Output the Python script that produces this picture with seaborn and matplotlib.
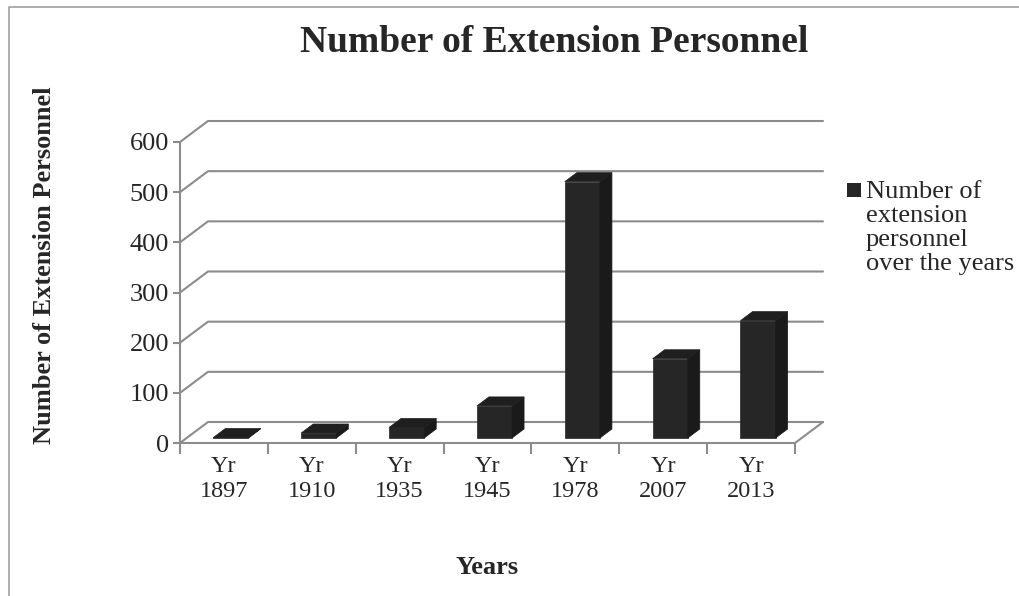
import numpy as np
import pandas as pd
import matplotlib
matplotlib.use("Agg")
import matplotlib.pyplot as plt
import seaborn as sns
from matplotlib.lines import Line2D
from matplotlib.patches import Polygon, Rectangle
from matplotlib.transforms import IdentityTransform, ScaledTranslation

# data
years = ["1897", "1910", "1935", "1945", "1978", "2007", "2013"]
personnel = [1, 10, 21, 64, 511, 158, 234]
tick_labels = ["Yr\n" + y for y in years]
y_ticks = [0, 100, 200, 300, 400, 500, 600]

sns.set_theme(style="white")
plt.rcParams['font.family'] = ['Liberation Serif', 'DejaVu Serif']

W, H, DPI = 1019, 596, 100
fig = plt.figure(figsize=(W / DPI, H / DPI), dpi=DPI)
# front plane of the fake 3D box
ax = fig.add_axes([180 / W, (H - 443) / H, 615 / W, 301 / H])
ax.set_facecolor('none')

df = pd.DataFrame({'Year': tick_labels, 'Personnel': personnel})
bar_color = '#262626'
sns.barplot(data=df, x='Year', y='Personnel', color=bar_color, saturation=1,
            width=0.4, ax=ax, zorder=3, edgecolor=bar_color, linewidth=0.5)

ax.set_xlim(-0.5, len(years) - 0.5)
ax.set_ylim(0, 600)
ax.set_yticks(y_ticks)
ax.set_xlabel('')
ax.set_ylabel('')

grid_c = '#8c8c8c'
for s in ['top', 'right']:
    ax.spines[s].set_visible(False)
for s in ['left', 'bottom']:
    ax.spines[s].set_color(grid_c)
    ax.spines[s].set_linewidth(1.5)

ax.tick_params(axis='y', length=5, width=1.5, color=grid_c, labelsize=19, pad=3,
               left=True)
ax.set_xticks(np.arange(-0.5, len(years)), minor=True)
ax.tick_params(axis='x', which='major', length=0, labelsize=17.5, pad=9)
ax.tick_params(axis='x', which='minor', length=8, width=1.5, color=grid_c,
               bottom=True, direction='out')
for lab in ax.get_xticklabels():
    lab.set_linespacing(1.3)

# depth offsets in pixels
DX, DY = 28, 21        # wall depth
OX, OY = 7, 5          # bar front face offset from front plane
BX, BY = 12, 9         # bar depth

px = ax.transData.transform
ident = IdentityTransform()
x_lo, x_hi = ax.get_xlim()

# back wall gridlines and floor
for y in y_ticks:
    f = px((x_lo, y))
    r = px((x_hi, y))
    ax.add_line(Line2D([f[0], f[0] + DX, r[0] + DX], [f[1], f[1] + DY, r[1] + DY],
                       transform=ident, color=grid_c, lw=1.5, clip_on=False, zorder=1))
fr = px((x_hi, 0))
ax.add_line(Line2D([fr[0], fr[0] + DX], [fr[1], fr[1] + DY], transform=ident,
                   color=grid_c, lw=1.5, clip_on=False, zorder=1))

# give the bars depth
shift = ScaledTranslation(OX / DPI, OY / DPI, fig.dpi_scale_trans)
for p in list(ax.patches):
    x0, w, h = p.get_x(), p.get_width(), p.get_height()
    bl = px((x0, 0)) + (OX, OY)
    tr = px((x0 + w, h)) + (OX, OY)
    p.set_transform(ax.transData + shift)
    p.set_clip_on(False)
    side = Polygon([(tr[0], bl[1]), (tr[0], tr[1]), (tr[0] + BX, tr[1] + BY),
                    (tr[0] + BX, bl[1] + BY)], closed=True, transform=ident,
                   facecolor='#1a1a1a', edgecolor='#1a1a1a', lw=0.5, clip_on=False,
                   zorder=3)
    top = Polygon([(bl[0], tr[1]), (tr[0], tr[1]), (tr[0] + BX, tr[1] + BY),
                   (bl[0] + BX, tr[1] + BY)], closed=True, transform=ident,
                  facecolor='#1f1f1f', edgecolor='#1f1f1f', lw=0.5, clip_on=False,
                  zorder=3)
    ax.add_patch(side)
    ax.add_patch(top)

# titles
fig.text(554 / W, 1 - 43 / H, 'Number of Extension Personnel', ha='center', va='center',
         fontsize=27, fontweight='bold')
fig.text(45 / W, 1 - 265 / H, 'Number of Extension Personnel', ha='center', va='center',
         rotation=90, fontsize=19, fontweight='bold')
fig.text(487 / W, 1 - 568 / H, 'Years', ha='center', va='center', fontsize=19,
         fontweight='bold')

# legend
fig.add_artist(Rectangle((847 / W, 1 - 197 / H), 14 / W, 14 / H,
                         transform=fig.transFigure, facecolor=bar_color, edgecolor='none'))
fig.text(866 / W, 1 - 181 / H, 'Number of\nextension\npersonnel\nover the years',
         ha='left', va='top', fontsize=19, linespacing=1.12)

# chart border (left and top edges only are visible)
fig.add_artist(Line2D([9 / W, 9 / W, 1], [0, 1 - 7 / H, 1 - 7 / H],
                      transform=fig.transFigure, color='#a0a0a0', lw=1.2))

fig.savefig('out.png', dpi=DPI)
